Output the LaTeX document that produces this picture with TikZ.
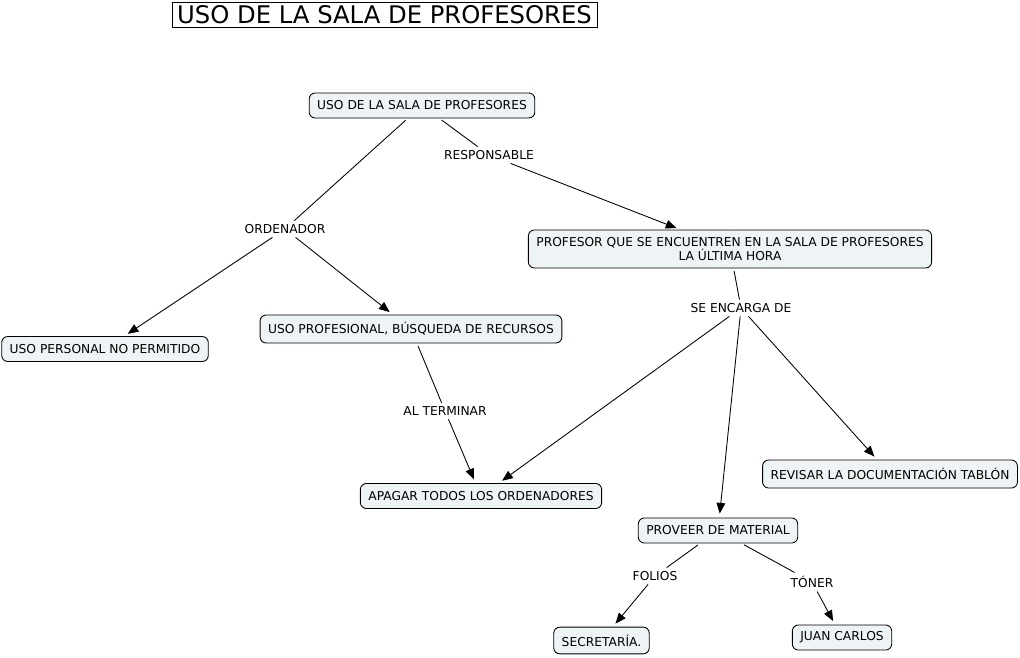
\documentclass[tikz,border=0pt]{standalone}
\usepackage{fontspec}
\setmainfont{DejaVu Sans}
\usetikzlibrary{arrows.meta}
\definecolor{conceptfill}{RGB}{238,244,246}
\tikzset{concept/.style={draw,rounded corners=4.5pt,fill=conceptfill,inner xsep=6pt,
  minimum height=18.75pt,font=\fontsize{9.2}{11.2}\selectfont,align=center},
  linkword/.style={inner sep=2.5pt,font=\fontsize{9.2}{11.2}\selectfont}}
\begin{document}
\begin{tikzpicture}[x=0.75pt,y=-0.75pt,>={Triangle[length=8pt,width=6.5pt]},line width=0.65pt]
\useasboundingbox (0,0) rectangle (1020,657);

\node[draw,inner sep=0pt,minimum width=318.75pt,minimum height=18.75pt,
  font=\fontsize{18.2}{20}\selectfont](title) at (384.5,14.5){USO DE LA SALA DE PROFESORES};

\node[concept](root) at (422,105.5){USO DE LA SALA DE PROFESORES};
\node[concept,minimum height=28.5pt](prof) at (730,249)
  {PROFESOR QUE SE ENCUENTREN EN LA SALA DE PROFESORES\\LA ÚLTIMA HORA};
\node[concept](personal) at (105,349){USO PERSONAL NO PERMITIDO};
\node[concept,minimum height=21pt](profesional) at (411,329){USO PROFESIONAL, BÚSQUEDA DE RECURSOS};
\node[concept](apagar) at (481,496){APAGAR TODOS LOS ORDENADORES};
\node[concept,minimum height=21pt](revisar) at (890,474){REVISAR LA DOCUMENTACIÓN TABLÓN};
\node[concept](proveer) at (718,530.5){PROVEER DE MATERIAL};
\node[concept,minimum height=20pt](secretaria) at (601.5,640.5){SECRETARÍA.};
\node[concept](juan) at (842,637.5){JUAN CARLOS};

\node[linkword](resp) at (489,155){RESPONSABLE};
\node[linkword](orden) at (285,229){ORDENADOR};
\node[linkword](encarga) at (741,308){SE ENCARGA DE};
\node[linkword](terminar) at (445,411){AL TERMINAR};
\node[linkword](folios) at (655,576){FOLIOS};
\node[linkword](toner) at (812,582){TÓNER};

\draw[shorten <=2pt] (root) -- (resp);
\draw[->,shorten >=3pt] (resp) -- (prof);
\draw[shorten <=2pt] (root) -- (orden);
\draw[->,shorten >=3pt] (orden) -- (personal);
\draw[->,shorten >=3pt] (orden) -- (profesional);
\draw[shorten <=2pt] (profesional) -- (terminar);
\draw[->,shorten >=3pt] (terminar) -- (apagar);
\draw[shorten <=2pt] (prof) -- (encarga);
\draw[->,shorten >=3pt] (encarga) -- (apagar);
\draw[->,shorten >=3pt] (encarga) -- (proveer);
\draw[->,shorten >=3pt] (encarga) -- (revisar);
\draw[shorten <=2pt] (proveer) -- (folios);
\draw[->,shorten >=3pt] (folios) -- (secretaria);
\draw[shorten <=2pt] (proveer) -- (toner);
\draw[->,shorten >=3pt] (toner) -- (juan);

\end{tikzpicture}
\end{document}
